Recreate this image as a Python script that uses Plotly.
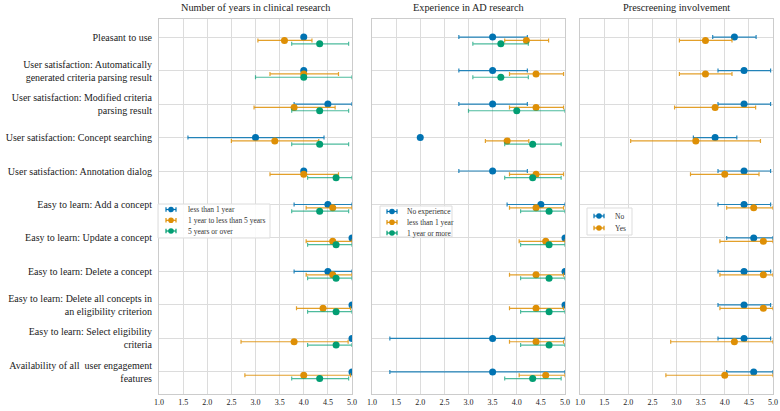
import plotly.graph_objects as go

categories = [
    "Pleasant to use",
    "User satisfaction: Automatically<br>generated criteria parsing result",
    "User satisfaction: Modified criteria<br>parsing result",
    "User satisfaction: Concept searching",
    "User satisfaction: Annotation dialog",
    "Easy to learn: Add a concept",
    "Easy to learn: Update a concept",
    "Easy to learn: Delete a concept",
    "Easy to learn: Delete all concepts in<br>an eligibility criterion",
    "Easy to learn: Select eligibility<br>criteria",
    "Availability of all  user engagement<br>features",
]

panel_titles = ["Number of years in clinical research", "Experience in AD research", "Prescreening involvement"]
x_ticks = [1.0, 1.5, 2.0, 2.5, 3.0, 3.5, 4.0, 4.5, 5.0]

# Panel 1: Number of years in clinical research
p1_names = ["less than 1 year", "1 year to less than 5 years", "5 years or over"]
p1_less1_mean = [4.0, 4.0, 4.5, 3.0, 4.0, 4.5, 5.0, 4.5, 5.0, 5.0, 5.0]
p1_less1_lo = [None, None, 3.8, 1.6, None, 3.8, None, 3.8, None, None, None]
p1_less1_hi = [None, None, 5.0, 4.42, None, 5.0, None, 5.0, None, None, None]
p1_1to5_mean = [3.6, 4.0, 3.8, 3.4, 4.0, 4.6, 4.6, 4.6, 4.4, 3.8, 4.0]
p1_1to5_lo = [3.05, 3.3, 2.97, 2.5, 3.3, 4.05, 4.05, 4.05, 3.85, 2.7, 2.78]
p1_1to5_hi = [4.17, 4.72, 4.65, 4.31, 4.72, 5.0, 5.0, 5.0, 4.97, 4.92, 4.97]
p1_5plus_mean = [4.33, 4.0, 4.33, 4.33, 4.67, 4.33, 4.67, 4.67, 4.67, 4.67, 4.33]
p1_5plus_lo = [3.75, 3.0, 3.75, 3.75, 4.08, 3.75, 4.08, 4.08, 4.08, 4.08, 3.75]
p1_5plus_hi = [4.93, 5.0, 4.93, 4.93, 5.0, 4.93, 5.0, 5.0, 5.0, 5.0, 4.93]

# Panel 2: Experience in AD research
p2_names = ["No experience", "less than 1 year", "1 year or more"]
p2_none_mean = [3.5, 3.5, 3.5, 2.0, 3.5, 4.5, 5.0, 5.0, 5.0, 3.5, 3.5]
p2_none_lo = [2.8, 2.8, 2.8, None, 2.8, 3.8, None, None, None, 1.37, 1.37]
p2_none_hi = [4.22, 4.22, 4.22, None, 4.22, 5.0, None, None, None, 5.0, 5.0]
p2_less1_mean = [4.2, 4.4, 4.4, 3.8, 4.4, 4.4, 4.6, 4.4, 4.4, 4.4, 4.6]
p2_less1_lo = [3.75, 3.85, 3.85, 3.35, 3.85, 3.85, 4.05, 3.85, 3.85, 3.85, 4.05]
p2_less1_hi = [4.66, 4.97, 4.97, 4.25, 4.97, 4.97, 5.0, 4.97, 4.97, 4.97, 5.0]
p2_1plus_mean = [3.67, 3.67, 4.0, 4.33, 4.33, 4.67, 4.67, 4.67, 4.67, 4.67, 4.33]
p2_1plus_lo = [3.09, 3.09, 3.0, 3.75, 3.75, 4.08, 4.08, 4.08, 4.08, 4.08, 3.75]
p2_1plus_hi = [4.24, 4.24, 5.0, 4.92, 4.92, 5.0, 5.0, 5.0, 5.0, 5.0, 4.92]

# Panel 3: Prescreening involvement
p3_names = ["No", "Yes"]
p3_no_mean = [4.2, 4.4, 4.4, 3.8, 4.4, 4.4, 4.6, 4.4, 4.4, 4.4, 4.6]
p3_no_lo = [3.75, 3.86, 3.86, 3.35, 3.86, 3.86, 4.04, 3.86, 3.86, 3.86, 4.04]
p3_no_hi = [4.65, 4.95, 4.95, 4.25, 4.95, 4.95, 5.0, 4.95, 4.95, 4.95, 5.0]
p3_yes_mean = [3.6, 3.6, 3.8, 3.4, 4.0, 4.6, 4.8, 4.8, 4.8, 4.2, 4.0]
p3_yes_lo = [3.06, 3.06, 2.96, 2.05, 3.29, 4.04, 3.9, 3.9, 3.9, 2.88, 2.78]
p3_yes_hi = [4.15, 4.15, 4.64, 4.74, 4.71, 5.0, 5.0, 5.0, 5.0, 5.0, 5.0]

colors = ["#0173B2", "#DE8F05", "#029E73"]
err_colors = ["rgba(1,115,178,0.85)", "rgba(222,143,5,0.85)", "rgba(2,158,115,0.7)"]
dodge = 0.1
FONT = "Liberation Serif"
W, H = 780, 411

panels = [
    (p1_names, [(p1_less1_mean, p1_less1_lo, p1_less1_hi),
                (p1_1to5_mean, p1_1to5_lo, p1_1to5_hi),
                (p1_5plus_mean, p1_5plus_lo, p1_5plus_hi)]),
    (p2_names, [(p2_none_mean, p2_none_lo, p2_none_hi),
                (p2_less1_mean, p2_less1_lo, p2_less1_hi),
                (p2_1plus_mean, p2_1plus_lo, p2_1plus_hi)]),
    (p3_names, [(p3_no_mean, p3_no_lo, p3_no_hi),
                (p3_yes_mean, p3_yes_lo, p3_yes_hi)]),
]

fig = go.Figure()
ypos = list(range(len(categories)))
for pi, (names, series) in enumerate(panels):
    sfx = "" if pi == 0 else str(pi + 1)
    for si, (mean, lo, hi) in enumerate(series):
        plus = [(h - m) if h is not None else 0 for m, h in zip(mean, hi)]
        minus = [(m - l) if l is not None else 0 for m, l in zip(mean, lo)]
        fig.add_trace(go.Scatter(
            x=mean,
            y=[y + si * dodge for y in ypos],
            mode="markers",
            name=names[si],
            showlegend=False,
            marker=dict(color=colors[si], size=7),
            error_x=dict(type="data", symmetric=False, array=plus, arrayminus=minus,
                         color=err_colors[si], thickness=1.2, width=2),
            xaxis="x" + sfx, yaxis="y" + sfx,
        ))

x_dom_px = [(159, 352), (372, 565), (580, 773)]
y_dom = [1 - 394 / H, 1 - 19 / H]


def PX(px):
    return px / W


def PY(py):
    return 1 - py / H


layout = dict(
    width=W, height=H,
    margin=dict(l=0, r=0, t=0, b=0, autoexpand=False),
    paper_bgcolor="white", plot_bgcolor="white",
    font=dict(family=FONT, color="#222222"),
    showlegend=False,
)
for pi in range(3):
    sfx = "" if pi == 0 else str(pi + 1)
    xd = [x_dom_px[pi][0] / W, x_dom_px[pi][1] / W]
    layout["xaxis" + sfx] = dict(
        domain=xd, range=[1.0, 5.0], tickvals=x_ticks,
        ticktext=["%.1f" % v for v in x_ticks],
        showgrid=True, gridcolor="#dcdcdc", gridwidth=1,
        showline=True, linecolor="#cccccc", mirror=True, zeroline=False,
        tickfont=dict(size=8, family=FONT, color="#222222"),
        anchor="y" + sfx, ticks="", automargin=False,
    )
    layout["yaxis" + sfx] = dict(
        domain=y_dom, range=[10.66, -0.54], tickvals=ypos,
        ticktext=categories if pi == 0 else [""] * len(categories),
        showticklabels=(pi == 0),
        showgrid=True, gridcolor="#dcdcdc", gridwidth=1,
        showline=True, linecolor="#cccccc", mirror=True, zeroline=False,
        tickfont=dict(size=10, family=FONT, color="#222222"),
        ticklabelstandoff=4,
        anchor="x" + sfx, ticks="", automargin=False,
    )

annotations = []
shapes = []
for pi in range(3):
    cx = (x_dom_px[pi][0] + x_dom_px[pi][1]) / 2 / W
    annotations.append(dict(
        text=panel_titles[pi], x=cx, y=PY(7.5), xref="paper", yref="paper",
        xanchor="center", yanchor="middle", showarrow=False,
        font=dict(size=10.3, family=FONT, color="#222222"),
    ))

# Custom compact legends (box, error-bar glyph, label) per panel
legend_boxes = [(158, 204, 270, 238), (380, 206, 452, 237), (587, 208, 632, 235)]
legend_sym_x = [171, 392, 599]
legend_text_x = [186, 405, 613]
legend_rows = [[209.5, 220.3, 231], [211.5, 222.3, 233], [216, 228]]
for pi, (names, series) in enumerate(panels):
    x0, y0, x1, y1 = legend_boxes[pi]
    shapes.append(dict(type="rect", xref="paper", yref="paper",
                       x0=PX(x0), x1=PX(x1), y0=PY(y0), y1=PY(y1),
                       line=dict(color="#dddddd", width=1),
                       fillcolor="rgba(255,255,255,0.85)", layer="above"))
    sx = legend_sym_x[pi]
    for si, name in enumerate(names):
        ry = legend_rows[pi][si]
        c = colors[si]
        shapes.append(dict(type="line", xref="paper", yref="paper",
                           x0=PX(sx - 5), x1=PX(sx + 5), y0=PY(ry), y1=PY(ry),
                           line=dict(color=c, width=1.2), layer="above"))
        for cxp in (sx - 5, sx + 5):
            shapes.append(dict(type="line", xref="paper", yref="paper",
                               x0=PX(cxp), x1=PX(cxp), y0=PY(ry - 2.2), y1=PY(ry + 2.2),
                               line=dict(color=c, width=1.2), layer="above"))
        shapes.append(dict(type="circle", xref="paper", yref="paper",
                           x0=PX(sx - 2.8), x1=PX(sx + 2.8), y0=PY(ry - 2.8), y1=PY(ry + 2.8),
                           line=dict(color=c, width=0), fillcolor=c, layer="above"))
        annotations.append(dict(
            text=name, x=PX(legend_text_x[pi]), y=PY(ry), xref="paper", yref="paper",
            xanchor="left", yanchor="middle", showarrow=False,
            font=dict(size=7.5, family=FONT, color="#333333"),
        ))

layout["annotations"] = annotations
layout["shapes"] = shapes

fig.update_layout(**layout)
fig.write_html("out.html", config={"displayModeBar": False},
               post_script="document.body.style.margin='0';document.body.style.overflow='hidden';")
